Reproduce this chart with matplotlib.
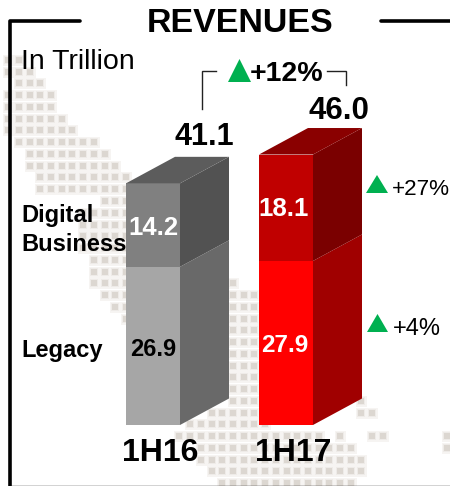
#!/usr/bin/env python3
# -*- coding: utf-8 -*-
import matplotlib
matplotlib.use('Agg')
import matplotlib.pyplot as plt
from matplotlib.patches import Polygon, Rectangle

plt.rcParams['font.family'] = ['Liberation Sans', 'DejaVu Sans']

periods = ['1H16', '1H17']
legacy = [26.9, 27.9]
digital = [14.2, 18.1]
totals = ['41.1', '46.0']
growth_total = '+12%'
growth_digital = '+27%'
growth_legacy = '+4%'

# background dot map: row, first column, last column
dot_rows = [(0, 1, 2), (1, 1, 3), (2, 2, 4), (3, 1, 5), (4, 1, 5), (5, 1, 6), (6, 1, 7),
            (7, 2, 9), (8, 3, 10), (9, 3, 11), (10, 4, 12), (11, 4, 12), (12, 10, 12),
            (13, 8, 12), (14, 8, 12), (15, 8, 12), (16, 8, 12), (17, 9, 12), (18, 9, 12),
            (19, 9, 12), (19, 22, 22), (20, 10, 12), (20, 22, 24), (21, 11, 12), (21, 22, 24),
            (22, 12, 12), (22, 22, 24), (23, 22, 24), (24, 22, 24), (25, 22, 24), (26, 22, 24),
            (27, 22, 24), (28, 22, 24), (29, 22, 24), (29, 34, 34), (30, 20, 24), (30, 34, 35),
            (31, 18, 25), (32, 17, 30), (32, 32, 32), (32, 35, 36), (32, 42, 42),
            (33, 19, 33), (33, 42, 42), (34, 19, 34), (35, 20, 34), (36, 21, 33)]

fig = plt.figure(figsize=(4.5, 4.86), dpi=100)

# pixel axes for background, frame and labels
ax = fig.add_axes([0, 0, 1, 1], zorder=1)
ax.set_xlim(0, 450)
ax.set_ylim(486, 0)
ax.axis('off')

dx, dy = [], []
for row, c0, c1 in dot_rows:
    for c in range(c0, c1 + 1):
        dx.append(-2.4 + 10.7 * c)
        dy.append(60 + 11.75 * row)
ax.scatter(dx, dy, marker='s', s=(11.0 * 0.72) ** 2, color='#f6f4f2', linewidths=0, zorder=1)
ax.scatter(dx, dy, marker='s', s=(8.5 * 0.72) ** 2, color='#eeebe8', linewidths=0, zorder=2)
ax.scatter(dx, dy, marker='s', s=(6.5 * 0.72) ** 2, color='#dcd7d1', linewidths=0, zorder=3)

# frame
ax.plot([80, 10, 10], [21, 21, 486], color='black', lw=2.6, solid_joinstyle='round', solid_capstyle='round', zorder=4)
ax.plot([381, 450], [21, 21], color='black', lw=2.6, solid_capstyle='round', zorder=4)
ax.plot([10, 450], [485.5, 485.5], color='#222222', lw=1.0, zorder=4)

# bars, y axis in trillion
px_per_unit = 5.88
ax2 = fig.add_axes([0, 0, 1, 1], zorder=2)
ax2.patch.set_alpha(0)
ax2.set_xlim(0, 450)
ax2.set_ylim(-61 / px_per_unit, 425 / px_per_unit)
ax2.axis('off')

depth_x = 49
depth_y = 26.5 / px_per_unit
bar_left = [126, 259]
bar_w = 54
colors = [
    {'low': '#a6a6a6', 'up': '#808080', 'top': '#5c5c5c', 'side_low': '#696969', 'side_up': '#525252'},
    {'low': '#ff0000', 'up': '#c00000', 'top': '#8a0000', 'side_low': '#a00000', 'side_up': '#7a0000'},
]

for i in range(2):
    x0 = bar_left[i]
    x1 = x0 + bar_w
    a = legacy[i]
    b = legacy[i] + digital[i]
    c = colors[i]
    ax2.add_patch(Rectangle((x0, 0), bar_w, a, fc=c['low'], ec='none'))
    ax2.add_patch(Rectangle((x0, a), bar_w, digital[i], fc=c['up'], ec='none'))
    ax2.add_patch(Polygon([(x1, 0), (x1 + depth_x, depth_y), (x1 + depth_x, a + depth_y), (x1, a)], fc=c['side_low'], ec='none'))
    ax2.add_patch(Polygon([(x1, a), (x1 + depth_x, a + depth_y), (x1 + depth_x, b + depth_y), (x1, b)], fc=c['side_up'], ec='none'))
    ax2.add_patch(Polygon([(x0, b), (x0 + depth_x, b + depth_y), (x1 + depth_x, b + depth_y), (x1, b)], fc=c['top'], ec='none'))

# labels
ax3 = fig.add_axes([0, 0, 1, 1], zorder=3)
ax3.patch.set_alpha(0)
ax3.set_xlim(0, 450)
ax3.set_ylim(486, 0)
ax3.axis('off')

ax3.text(240, 24, 'REVENUES', fontsize=24.5, fontweight='bold', ha='center', va='center')
ax3.text(21, 62, 'In Trillion', fontsize=20.5, ha='left', va='center')

ax3.text(204, 137, totals[0], fontsize=22, fontweight='bold', ha='center', va='center')
ax3.text(339, 111, totals[1], fontsize=22.5, fontweight='bold', ha='center', va='center')
ax3.text(160, 453, periods[0], fontsize=23, fontweight='bold', ha='center', va='center')
ax3.text(293, 453, periods[1], fontsize=23, fontweight='bold', ha='center', va='center')

ax3.text(21, 215, 'Digital', fontsize=17, fontweight='bold', ha='left', va='center')
ax3.text(21, 244, 'Business', fontsize=17, fontweight='bold', ha='left', va='center')
ax3.text(21, 350, 'Legacy', fontsize=17, fontweight='bold', ha='left', va='center')

ax3.text(153, 228, f'{digital[0]}', fontsize=18.5, fontweight='bold', color='white', ha='center', va='center')
ax3.text(153, 349, f'{legacy[0]}', fontsize=17, fontweight='bold', color='black', ha='center', va='center')
ax3.text(284, 209, f'{digital[1]}', fontsize=18.5, fontweight='bold', color='white', ha='center', va='center')
ax3.text(285, 345, f'{legacy[1]}', fontsize=17.5, fontweight='bold', color='white', ha='center', va='center')

green = '#00b050'
ax3.add_patch(Polygon([(228, 82), (239.5, 59), (251, 82)], fc=green, ec='none'))
ax3.add_patch(Polygon([(366, 193), (377, 175), (388, 193)], fc=green, ec='none'))
ax3.add_patch(Polygon([(367, 332), (377.5, 314), (388, 332)], fc=green, ec='none'))

ax3.text(287, 74, growth_total, fontsize=20.5, fontweight='bold', ha='center', va='center')
ax3.text(391.5, 189, growth_digital, fontsize=16.2, ha='left', va='center')
ax3.text(393, 329, growth_legacy, fontsize=17, ha='left', va='center')

# brackets
ax3.plot([202, 202, 216], [109, 71.5, 71.5], color='#222222', lw=1.0, solid_joinstyle='miter')
ax3.plot([327, 345.5, 345.5], [71.5, 71.5, 85], color='#222222', lw=1.0, solid_joinstyle='miter')

plt.savefig('out.png', dpi=100)
